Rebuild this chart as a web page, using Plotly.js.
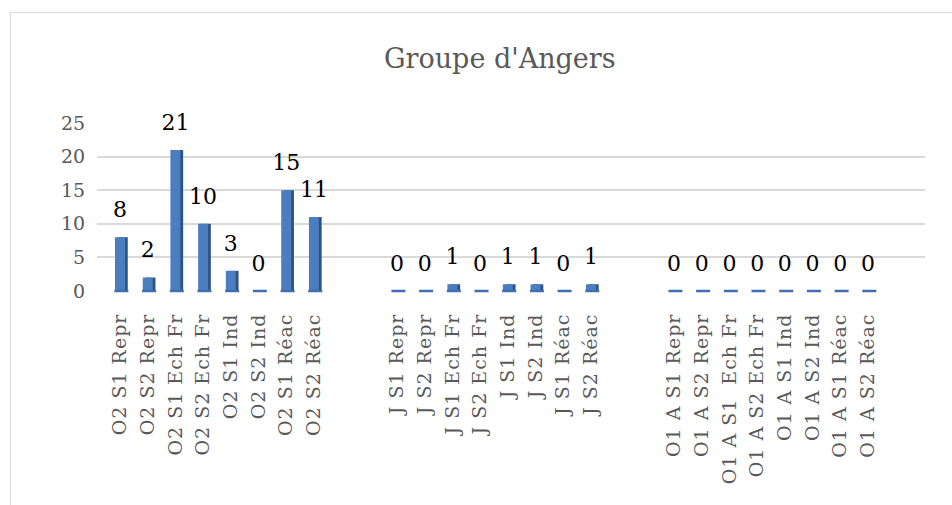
<!DOCTYPE html>
<html><head><meta charset="utf-8">
<script src="https://cdn.plot.ly/plotly-3.0.1.min.js"></script>
<style>
html,body{margin:0;padding:0;background:#fff;}
#wrap{position:relative;width:952px;height:505px;overflow:hidden;}
#frame{position:absolute;left:10px;top:12px;width:960px;height:520px;border-left:1px solid #d9d9d9;border-top:1px solid #d9d9d9;box-sizing:border-box;}
#chart{position:absolute;left:0;top:0;width:952px;height:505px;}
#chart .xtick text{letter-spacing:1px;}
</style></head>
<body><div id="wrap"><div id="frame"></div><div id="chart"></div></div>
<script>
const titleText = "Groupe d'Angers";
const group1 = ["O2 S1 Repr","O2 S2 Repr","O2 S1 Ech Fr","O2 S2 Ech Fr","O2 S1 Ind","O2 S2 Ind","O2 S1 Réac","O2 S2 Réac"];
const values1 = [8,2,21,10,3,0,15,11];
const group2 = ["J S1 Repr","J S2 Repr","J S1 Ech Fr","J S2 Ech Fr","J S1 Ind","J S2 Ind","J S1 Réac","J S2 Réac"];
const values2 = [0,0,1,0,1,1,0,1];
const group3 = ["O1 A S1 Repr","O1 A S2 Repr","O1 A S1\u00a0 Ech Fr","O1 A S2 Ech Fr","O1 A S1 Ind","O1 A S2 Ind","O1 A S1 Réac","O1 A S2 Réac"];
const values3 = [0,0,0,0,0,0,0,0];
const yTicks = [0,5,10,15,20,25];

const groups = [group1, group2, group3];
const vals = [values1, values2, values3];
const xs = [], ys = [], labels = [];
groups.forEach((g, gi) => g.forEach((c, i) => {
  xs.push(gi * 10 + i); ys.push(vals[gi][i]); labels.push(c);
}));

const FONT = "DejaVu Serif";
const traces = [
  {type:'bar', x: xs.map(v => v + 0.1), y: ys, width: 0.36,
   marker:{color:'#2c5384'}, hoverinfo:'skip', showlegend:false},
  {type:'bar', x: xs, y: ys, width: 0.36,
   marker:{color:'#4a7ebf', line:{width:0}}, showlegend:false},
  {type:'scatter', mode:'markers+text', x: xs, y: ys, text: ys.map(String),
   textposition:'top center', marker:{size:22, color:'rgba(0,0,0,0)'},
   textfont:{family:FONT, size:22, color:'#000000'}, cliponaxis:false, showlegend:false, hoverinfo:'skip'},
  {type:'scatter', mode:'markers', x: xs.map(v => v + 0.05), y: ys.map(() => 0),
   marker:{symbol:'line-ew', size:10, line:{color:'#3f6fae', width:2.5}}, showlegend:false, hoverinfo:'skip', cliponaxis:false}
];

const layout = {
  width: 952, height: 505,
  paper_bgcolor:'rgba(0,0,0,0)', plot_bgcolor:'rgba(0,0,0,0)',
  margin:{l:97, r:27, t:123, b:214},
  barmode:'overlay',
  title:{text:titleText, x:0.525, xanchor:'center', y:0.885, yanchor:'middle',
         font:{family:FONT, size:27, color:'#595959'}},
  xaxis:{range:[-0.83, 29.06], tickmode:'array', tickvals: xs, ticktext: labels,
         tickangle:-90, showgrid:false, zeroline:false, showline:false,
         ticks:'outside', ticklen:14, tickcolor:'rgba(0,0,0,0)',
         tickfont:{family:FONT, size:19, color:'#595959'}, fixedrange:true},
  yaxis:{range:[0,25], tickmode:'array', tickvals: yTicks, showgrid:true,
         gridcolor:'#d9d9d9', gridwidth:2, zeroline:false, showline:false,
         ticks:'outside', ticklen:7, tickcolor:'rgba(0,0,0,0)',
         tickfont:{family:FONT, size:19, color:'#595959'}, fixedrange:true},
  font:{family:FONT}
};
Plotly.newPlot('chart', traces, layout, {staticPlot:true, displayModeBar:false});
</script></body></html>
